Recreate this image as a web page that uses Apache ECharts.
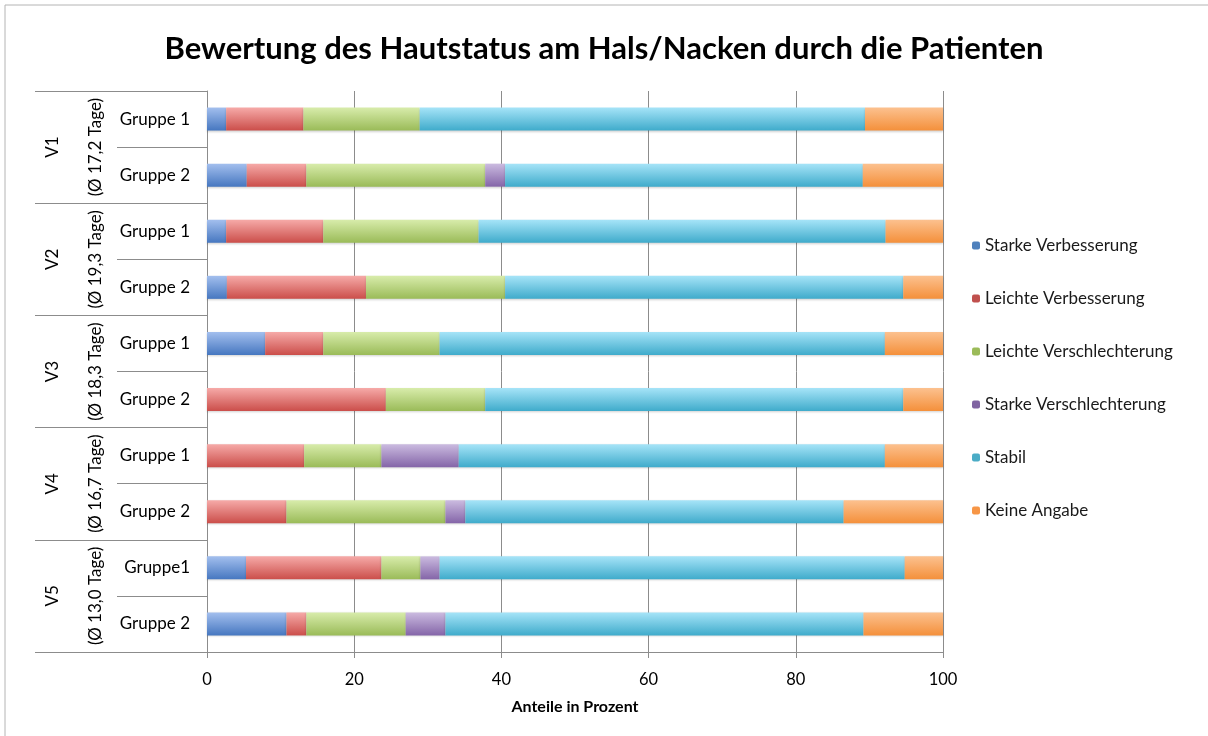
<!DOCTYPE html>
<html>
<head>
<meta charset="utf-8">
<script src="https://cdn.jsdelivr.net/npm/echarts@6/dist/echarts.min.js"></script>
<style>
  html, body { margin: 0; padding: 0; background: #fff; }
  #chart { width: 1208px; height: 736px; }
</style>
</head>
<body>
<div id="chart"></div>
<script>
// Kategorien (von oben nach unten)
const groups = ['Gruppe 1', 'Gruppe 2', 'Gruppe 1', 'Gruppe 2', 'Gruppe 1', 'Gruppe 2', 'Gruppe 1', 'Gruppe 2', 'Gruppe1', 'Gruppe 2']
const visits = ['V1', 'V2', 'V3', 'V4', 'V5']
const visitDays = ['(Ø 17,2 Tage)', '(Ø 19,3 Tage)', '(Ø 18,3 Tage)', '(Ø 16,7 Tage)', '(Ø 13,0 Tage)']

// Anteile in Prozent
const starkeVerbesserung = [2.6, 5.4, 2.6, 2.7, 7.9, 0, 0, 0, 5.3, 10.8]
const leichteVerbesserung = [10.5, 8.1, 13.2, 18.9, 7.9, 24.3, 13.2, 10.8, 18.4, 2.7]
const leichteVerschlechterung = [15.8, 24.3, 21.1, 18.9, 15.8, 13.5, 10.5, 21.6, 5.3, 13.5]
const starkeVerschlechterung = [0, 2.7, 0, 0, 0, 0, 10.5, 2.7, 2.6, 5.4]
const stabil = [60.5, 48.6, 55.3, 54.1, 60.5, 56.8, 57.9, 51.4, 63.2, 56.8]
const keineAngabe = [10.6, 10.9, 7.8, 5.4, 7.9, 5.4, 7.9, 13.5, 5.2, 10.8]

const xTicks = [0, 20, 40, 60, 80, 100]

const FONT = 'Lato, "Open Sans", sans-serif'
const GRID_COLOR = '#8c8c8c'

const grad = (top, bottom) =>
  new echarts.graphic.LinearGradient(0, 0, 0, 1, [
    { offset: 0, color: top },
    { offset: 1, color: bottom }
  ])

const seriesDefs = [
  { name: 'Starke Verbesserung', data: starkeVerbesserung, top: '#a3bfee', bottom: '#4677c0', flat: '#4f81bd' },
  { name: 'Leichte Verbesserung', data: leichteVerbesserung, top: '#f6aaa8', bottom: '#cb4e4a', flat: '#c0504d' },
  { name: 'Leichte Verschlechterung', data: leichteVerschlechterung, top: '#d8ecab', bottom: '#9abb58', flat: '#9bbb59' },
  { name: 'Starke Verschlechterung', data: starkeVerschlechterung, top: '#cbbbe0', bottom: '#8465a8', flat: '#8064a2' },
  { name: 'Stabil', data: stabil, top: '#a6e4f8', bottom: '#3fabcb', flat: '#4bacc6' },
  { name: 'Keine Angabe', data: keineAngabe, top: '#fcc18f', bottom: '#f4903b', flat: '#f79646' }
]

const chart = echarts.init(document.getElementById('chart'))

chart.setOption({
  animation: false,
  textStyle: { fontFamily: FONT },
  title: {
    text: 'Bewertung des Hautstatus am Hals/Nacken durch die Patienten',
    left: 'center',
    top: 28,
    textStyle: { fontFamily: FONT, fontWeight: 'bold', fontSize: 31, color: '#000' }
  },
  graphic: [
    {
      type: 'rect',
      shape: { x: 5, y: 5, width: 1220, height: 740 },
      style: { fill: 'none', stroke: '#b4b4b4', lineWidth: 1 },
      silent: true
    }
  ],
  legend: {
    orient: 'vertical',
    left: 967,
    top: 232,
    itemWidth: 8,
    itemHeight: 8,
    itemGap: 36,
    textStyle: { fontFamily: FONT, fontSize: 17, color: '#1a1a1a', lineHeight: 17 },
    data: seriesDefs.map(s => ({ name: s.name, itemStyle: { color: s.flat } }))
  },
  grid: { left: 207, right: 265, top: 91, bottom: 84 },
  xAxis: {
    type: 'value',
    min: xTicks[0],
    max: xTicks[xTicks.length - 1],
    interval: 20,
    axisLine: { show: true, lineStyle: { color: GRID_COLOR } },
    axisTick: { show: true, length: 6, lineStyle: { color: GRID_COLOR } },
    splitLine: { show: true, lineStyle: { color: GRID_COLOR } },
    axisLabel: { fontFamily: FONT, fontSize: 16.5, color: '#000', margin: 19 },
    name: 'Anteile in Prozent',
    nameLocation: 'middle',
    nameGap: 47,
    nameTextStyle: { fontFamily: FONT, fontWeight: 'bold', fontSize: 16, color: '#000' }
  },
  yAxis: [
    {
      type: 'category',
      inverse: true,
      data: groups,
      axisLine: { show: true, lineStyle: { color: GRID_COLOR } },
      axisTick: { show: true, length: 90, interval: 0, lineStyle: { color: GRID_COLOR } },
      axisLabel: { interval: 0, fontFamily: FONT, fontSize: 17, color: '#000', margin: 17 }
    },
    {
      type: 'category',
      inverse: true,
      position: 'left',
      data: visits,
      axisLine: { show: false },
      axisTick: { show: true, length: 172, interval: 0, lineStyle: { color: GRID_COLOR } },
      axisLabel: {
        interval: 0,
        rotate: 90,
        margin: 100,
        formatter: (val, i) => '{v|' + val + '}\n{d|' + visitDays[i] + '}',
        rich: {
          v: { fontFamily: FONT, fontSize: 17, color: '#000', lineHeight: 64 },
          d: { fontFamily: FONT, fontSize: 17, color: '#000', lineHeight: 22 }
        }
      }
    }
  ],
  series: seriesDefs.map(s => ({
    name: s.name,
    type: 'bar',
    stack: 'total',
    yAxisIndex: 0,
    barWidth: 23,
    data: s.data,
    itemStyle: {
      color: grad(s.top, s.bottom),
      shadowColor: 'rgba(0,0,0,0.18)',
      shadowBlur: 2,
      shadowOffsetY: 1
    }
  }))
})
</script>
</body>
</html>
